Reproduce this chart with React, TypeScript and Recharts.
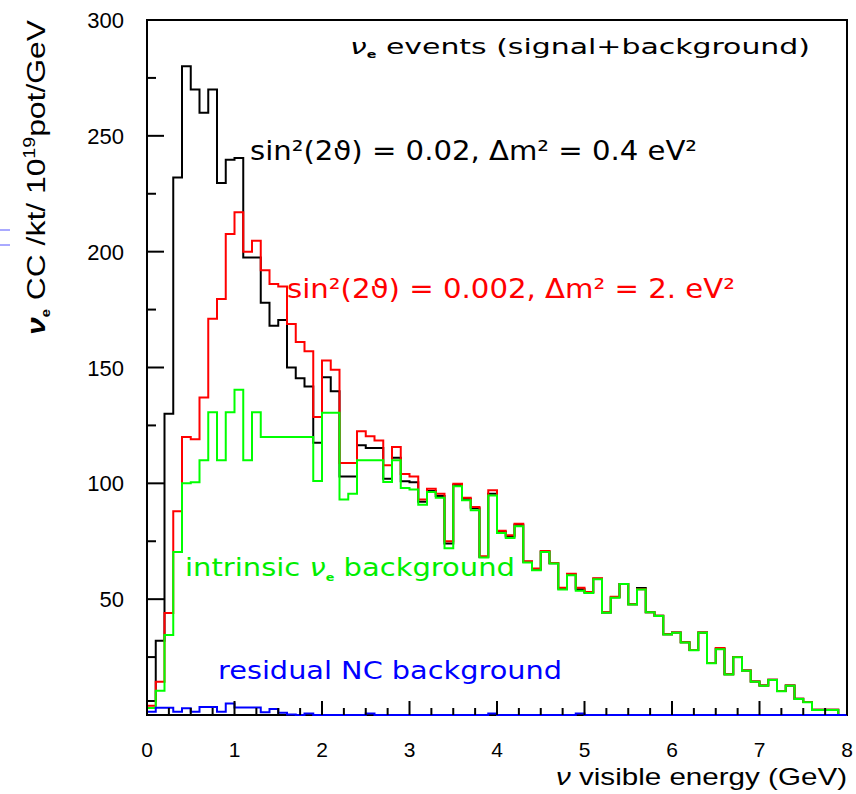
import React from 'react';
import { LineChart, Line, XAxis, YAxis, ReferenceArea } from 'recharts';

// bin lower edges, 0.1 GeV wide, plus the closing edge at 8 GeV
const binWidth = 0.1;
const nBins = 80;
const edges = Array.from({ length: nBins + 1 }, (_, i) => Math.round(i * binWidth * 10) / 10);

// signal (sin^2 2theta = 0.02, dm^2 = 0.4 eV^2) + background
const blackCounts = [
  6, 32, 130, 232, 280, 270, 260, 270, 229.6, 239.7,
  240.4, 197.5, 197.5, 178, 168, 170.5, 150, 145.4, 141.8, 117.5,
  145.8, 139.7, 103, 103, 116.4, 115.2, 115.2, 102, 111, 100.9,
  100.5, 92, 96.7, 94.5, 74, 99.3, 93.2, 89.2, 68.2, 95.5,
  79, 77, 82.1, 66.1, 62.8, 70.6, 65.5, 54.6, 60.6, 54.3,
  52.9, 58.8, 44.2, 50.8, 56.6, 47.8, 54.8, 44.4, 42.8, 34.9,
  35.6, 31.4, 28.1, 35.6, 22.4, 28.6, 17.6, 25, 19.2, 14.5,
  12.7, 15.2, 10.4, 12.7, 7, 5.6, 2.3, 2.3, 2.3, 0,
];

// signal (sin^2 2theta = 0.002, dm^2 = 2 eV^2) + background
const redCounts = [
  4, 14.4, 44, 88, 120, 119, 137, 171, 179.6, 207.6,
  217, 200, 204.7, 192, 186, 185, 168.8, 161, 157, 128.6,
  153, 149, 108.8, 108.8, 122.5, 120.3, 118.5, 107.8, 115.7, 104,
  103, 93, 97.7, 95.5, 75, 99.8, 93.8, 89.8, 68.5, 97,
  79.5, 77.6, 82.6, 66.4, 63.2, 70.8, 65.6, 54.9, 61, 54.9,
  53.1, 59, 44.3, 51, 56.6, 47.8, 54.3, 44.4, 42.8, 34.9,
  35.6, 31.4, 28.1, 35.6, 22.4, 28.9, 17.6, 25, 19.2, 14.5,
  12.7, 15.2, 10.4, 12.7, 7, 5.6, 2.3, 2.3, 2.3, 0,
];

// intrinsic nu_e background
const greenCounts = [
  3, 10.5, 34.5, 70.4, 100, 100.5, 110, 130.7, 110, 130.7,
  140.4, 110, 130.7, 120, 120, 120, 120, 120, 120, 101,
  130.5, 130.5, 93, 95.5, 110, 110, 110, 100.6, 110, 98,
  97.3, 90.8, 96.3, 93.8, 72, 98.7, 92.7, 88.4, 68, 94.8,
  78.6, 76.4, 81.5, 65.8, 62.5, 70.4, 65.4, 54.2, 60.3, 53.6,
  52.7, 58.6, 44.1, 50.6, 56.5, 47.7, 54.2, 44.3, 42.7, 34.8,
  35.5, 31.3, 28, 35.5, 22.3, 28.4, 17.5, 24.9, 19.1, 14.4,
  12.6, 15.1, 10.3, 12.6, 6.9, 5.5, 2.2, 2.2, 2.2, 0,
];

// residual NC background
const blueCounts = [
  1.4, 3.1, 3.1, 1.4, 2.9, 1.4, 3.4, 3.4, 1.4, 5,
  3.2, 3.2, 3.2, 1.2, 2.6, 1, 0.2, 0, 0.7, 0,
  0, 0, 0, 0, 0, 0.7, 0, 0, 0, 0,
  0, 0, 0, 0, 0, 0, 0, 0, 0, 0.7,
  0, 0, 0, 0, 0, 0, 0, 0, 0, 0.7,
  0, 0, 0, 0, 0, 0, 0, 0, 0, 0,
  0, 0, 0, 0, 0, 0, 0, 0, 0, 0,
  0, 0, 0, 0, 0, 0, 0, 0, 0, 0,
];

const yTicks = [0, 25, 50, 75, 100, 125, 150, 175, 200, 225, 250, 275, 300];
const xTicks = Array.from({ length: 33 }, (_, i) => i * 0.25);

const data = edges.map((x, i) => {
  const b = Math.min(i, nBins - 1);
  return {
    x,
    black: blackCounts[b],
    red: redCounts[b],
    green: greenCounts[b],
    blue: blueCounts[b],
  };
});

const axisFont = '"Liberation Sans", Arial, Helvetica, sans-serif';
const labelFont = '"DejaVu Sans", Verdana, sans-serif';

const YTick = (props: any) => {
  const { x, y, payload } = props;
  const v = payload.value;
  const major = v % 50 === 0;
  return (
    <g>
      <line x1={x} y1={y} x2={x + (major ? 17 : 9)} y2={y} stroke="#000" strokeWidth={2} />
      {major && v > 0 && (
        <text x={x - 23} y={y} dy={8} textAnchor="end" fontSize={22} fontFamily={axisFont} fill="#000">
          {v}
        </text>
      )}
    </g>
  );
};

const XTick = (props: any) => {
  const { x, y, payload } = props;
  const v = payload.value;
  const major = Math.abs(v - Math.round(v)) < 1e-6;
  return (
    <g>
      <line x1={x} y1={y} x2={x} y2={y - (major ? 14 : 7)} stroke="#000" strokeWidth={2} />
      {major && (
        <text x={x} y={y + 42} textAnchor="middle" fontSize={21} fontFamily={axisFont} fill="#000">
          {Math.round(v)}
        </text>
      )}
    </g>
  );
};

const Annotations = () => (
  <svg width={856} height={794} style={{ position: 'absolute', left: 0, top: 0, pointerEvents: 'none' }}>
    <line x1={0} y1={230} x2={10} y2={230} stroke="#5555ff" strokeWidth={1} />
    <line x1={0} y1={245} x2={10} y2={245} stroke="#5555ff" strokeWidth={1} />

    <text x={350} y={54} fontSize={21} fontFamily={labelFont} fill="#000" textLength={460} lengthAdjust="spacingAndGlyphs">
      <tspan fontStyle="italic">ν</tspan>
      <tspan fontSize={10} fontWeight="bold" dy={4}>e</tspan>
      <tspan dy={-4}> events (signal+background)</tspan>
    </text>

    <text x={250} y={160} fontSize={27} fontFamily={labelFont} fill="#000" textLength={447} lengthAdjust="spacingAndGlyphs">
      sin²(2ϑ) = 0.02, Δm² = 0.4 eV²
    </text>

    <text x={287} y={298} fontSize={27} fontFamily={labelFont} fill="#ff0000" textLength={448} lengthAdjust="spacingAndGlyphs">
      sin²(2ϑ) = 0.002, Δm² = 2. eV²
    </text>

    <text x={185} y={576} fontSize={25} fontFamily={labelFont} fill="#00ee00" textLength={330} lengthAdjust="spacingAndGlyphs">
      <tspan>intrinsic </tspan>
      <tspan fontStyle="italic">ν</tspan>
      <tspan fontSize={11} fontWeight="bold" dy={5}>e</tspan>
      <tspan dy={-5}> background</tspan>
    </text>

    <text x={218} y={679} fontSize={25} fontFamily={labelFont} fill="#0000ff" textLength={344} lengthAdjust="spacingAndGlyphs">
      residual NC background
    </text>

    <text
      transform="translate(45, 20) rotate(-90)"
      textAnchor="end"
      fontSize={26}
      fontFamily={axisFont}
      fill="#000"
      textLength={315}
      lengthAdjust="spacingAndGlyphs"
    >
      <tspan fontStyle="italic" fontWeight="bold">ν</tspan>
      <tspan fontSize={12} fontWeight="bold" dy={5}>e</tspan>
      <tspan dy={-5}> CC /kt/ 10</tspan>
      <tspan fontSize={16} dy={-10}>19</tspan>
      <tspan dy={10}>pot/GeV</tspan>
    </text>

    <text x={847} y={785} textAnchor="end" fontSize={24} fontFamily={axisFont} fill="#000" textLength={291} lengthAdjust="spacingAndGlyphs">
      <tspan fontStyle="italic">ν</tspan>
      <tspan> visible energy (GeV)</tspan>
    </text>
  </svg>
);

const App = () => {
  return (
    <div style={{ position: 'absolute', left: 0, top: 0, width: 856, height: 794, background: '#fff' }}>
      <LineChart width={856} height={794} data={data} margin={{ top: 20, right: 9, bottom: 19, left: 87 }}>
        <ReferenceArea x1={0} x2={8} y1={0} y2={300} fill="none" stroke="#000" strokeWidth={2} ifOverflow="visible" />
        <XAxis
          type="number"
          dataKey="x"
          domain={[0, 8]}
          ticks={xTicks}
          interval={0}
          height={60}
          tickSize={0}
          tickMargin={0}
          axisLine={false}
          tickLine={false}
          tick={<XTick />}
        />
        <YAxis
          type="number"
          domain={[0, 300]}
          ticks={yTicks}
          interval={0}
          width={60}
          tickSize={0}
          tickMargin={0}
          axisLine={false}
          tickLine={false}
          tick={<YTick />}
        />
        <Line type="stepAfter" dataKey="black" stroke="#000000" strokeWidth={2} dot={false} isAnimationActive={false} />
        <Line type="stepAfter" dataKey="red" stroke="#ff0000" strokeWidth={2} dot={false} isAnimationActive={false} />
        <Line type="stepAfter" dataKey="green" stroke="#00ff00" strokeWidth={2} dot={false} isAnimationActive={false} />
        <Line type="stepAfter" dataKey="blue" stroke="#0000ff" strokeWidth={2} dot={false} isAnimationActive={false} />
      </LineChart>
      <Annotations />
    </div>
  );
};

export default App;
